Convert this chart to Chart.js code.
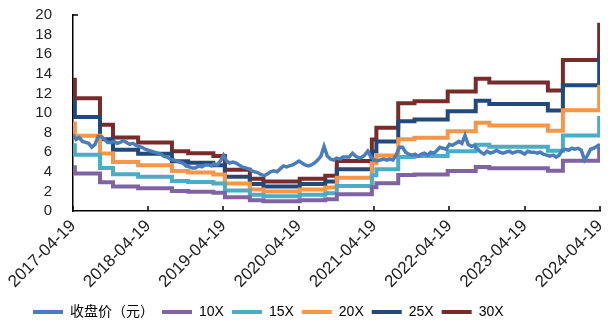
<!DOCTYPE html>
<html>
<head>
<meta charset="utf-8">
<script src="https://cdn.jsdelivr.net/npm/chart.js@4.4.1/dist/chart.umd.min.js"></script>
<style>
  html, body { margin: 0; padding: 0; background: #fff; }
</style>
</head>
<body>
<canvas id="chart" width="608" height="324"></canvas>
<script>
// x axis tick labels (one per year)
const tickLabels = ["2017-04-19", "2018-04-19", "2019-04-19", "2020-04-19",
  "2021-04-19", "2022-04-19", "2023-04-19", "2024-04-19"];

// closing price, sampled twice a month
const priceDates = [
  "2017-04-19","2017-05-04","2017-05-19","2017-06-04","2017-06-19","2017-07-04","2017-07-19","2017-08-04","2017-08-19","2017-09-04","2017-09-19","2017-10-04","2017-10-19","2017-11-04","2017-11-19","2017-12-04","2017-12-19",
  "2018-01-04","2018-01-19","2018-02-04","2018-02-19","2018-03-04","2018-03-19","2018-04-04","2018-04-19","2018-05-04","2018-05-19","2018-06-04","2018-06-19","2018-07-04","2018-07-19","2018-08-04","2018-08-19","2018-09-04","2018-09-19","2018-10-04","2018-10-19","2018-11-04","2018-11-19","2018-12-04","2018-12-19",
  "2019-01-04","2019-01-19","2019-02-04","2019-02-19","2019-03-04","2019-03-19","2019-04-04","2019-04-19","2019-05-04","2019-05-19","2019-06-04","2019-06-19","2019-07-04","2019-07-19","2019-08-04","2019-08-19","2019-09-04","2019-09-19","2019-10-04","2019-10-19","2019-11-04","2019-11-19","2019-12-04","2019-12-19",
  "2020-01-04","2020-01-19","2020-02-04","2020-02-19","2020-03-04","2020-03-19","2020-04-04","2020-04-19","2020-05-04","2020-05-19","2020-06-04","2020-06-19","2020-07-04","2020-07-19","2020-08-04","2020-08-19","2020-09-04","2020-09-19","2020-10-04","2020-10-19","2020-11-04","2020-11-19","2020-12-04","2020-12-19",
  "2021-01-04","2021-01-19","2021-02-04","2021-02-19","2021-03-04","2021-03-19","2021-04-04","2021-04-19","2021-05-04","2021-05-19","2021-06-04","2021-06-19","2021-07-04","2021-07-19","2021-08-04","2021-08-19","2021-09-04","2021-09-19","2021-10-04","2021-10-19","2021-11-04","2021-11-19","2021-12-04","2021-12-19",
  "2022-01-04","2022-01-19","2022-02-04","2022-02-19","2022-03-04","2022-03-19","2022-04-04","2022-04-19","2022-05-04","2022-05-19","2022-06-04","2022-06-19","2022-07-04","2022-07-19","2022-08-04","2022-08-19","2022-09-04","2022-09-19","2022-10-04","2022-10-19","2022-11-04","2022-11-19","2022-12-04","2022-12-19",
  "2023-01-04","2023-01-19","2023-02-04","2023-02-19","2023-03-04","2023-03-19","2023-04-04","2023-04-19","2023-05-04","2023-05-19","2023-06-04","2023-06-19","2023-07-04","2023-07-19","2023-08-04","2023-08-19","2023-09-04","2023-09-19","2023-10-04","2023-10-19","2023-11-04","2023-11-19","2023-12-04","2023-12-19",
  "2024-01-04","2024-01-19","2024-02-04","2024-02-19","2024-03-04","2024-03-19","2024-04-04","2024-04-19"
];
const priceValues = [
  7.8,7.3,7.5,7.1,7.0,6.9,6.5,6.8,7.6,7.6,7.3,7.0,7.0,7.1,6.9,7.0,7.2,
  7.0,6.8,6.9,6.7,6.6,6.5,6.3,6.2,6.1,6.0,5.9,5.8,5.6,5.5,5.3,5.2,5.1,5.0,4.9,4.6,4.5,4.4,4.4,4.6,
  4.5,4.7,4.7,4.6,4.8,4.7,5.1,5.7,5.1,4.9,5.0,4.9,4.7,4.5,4.4,4.3,4.1,4.0,3.9,3.7,3.6,3.8,4.0,4.1,
  4.0,4.3,4.6,4.5,4.6,4.7,4.9,5.1,4.9,4.7,4.6,4.7,4.9,5.2,5.6,6.6,5.6,5.3,5.2,5.4,5.3,5.5,5.5,5.5,
  5.9,5.6,5.4,5.5,5.7,6.1,5.5,5.2,5.1,5.2,5.3,5.2,5.3,5.2,5.7,6.5,6.5,6.0,5.8,5.7,5.8,5.6,5.8,5.9,
  5.7,6.0,5.9,6.2,6.5,6.4,6.3,6.8,6.7,6.9,7.1,6.9,7.7,6.8,6.6,6.7,6.3,6.0,5.8,6.1,5.9,6.0,6.2,6.0,
  5.9,6.0,6.1,5.9,6.0,6.1,6.0,5.8,6.1,6.0,6.0,5.9,6.0,5.8,5.7,5.6,5.7,5.5,5.7,6.2,6.3,6.2,6.4,6.3,
  6.4,6.2,5.2,5.7,6.3,6.4,6.6,6.8
];

// PE band lines: each value holds from its date until the next date
const bandDates = ["2017-04-19","2017-04-28","2017-08-28","2017-10-30","2018-03-01","2018-08-12",
  "2018-10-30","2019-03-01","2019-04-26","2019-08-25","2019-10-30","2020-04-23","2020-08-25",
  "2020-10-20","2021-04-08","2021-04-30","2021-08-14","2021-11-01","2022-04-11","2022-08-25",
  "2022-10-30","2023-08-10","2023-10-22","2024-04-15","2024-04-19"];
const pe10 = [4.47,3.83,2.93,2.50,2.33,2.03,1.97,1.87,1.40,1.10,1.00,1.10,1.20,1.70,2.43,2.83,3.67,3.73,4.07,4.50,4.37,4.10,5.13,6.33,6.33];
const pe15 = [6.70,5.75,4.40,3.75,3.50,3.05,2.95,2.80,2.10,1.65,1.50,1.65,1.80,2.55,3.65,4.25,5.50,5.60,6.10,6.75,6.55,6.15,7.70,9.50,9.50];
const pe20 = [8.93,7.67,5.87,5.00,4.67,4.07,3.93,3.73,2.80,2.20,2.00,2.20,2.40,3.40,4.87,5.67,7.33,7.47,8.13,9.00,8.73,8.20,10.27,12.67,12.67];
const pe25 = [11.17,9.58,7.33,6.25,5.83,5.08,4.92,4.67,3.50,2.75,2.50,2.75,3.00,4.25,6.08,7.08,9.17,9.33,10.17,11.25,10.92,10.25,12.83,15.83,15.83];
const pe30 = [13.4,11.5,8.8,7.5,7.0,6.1,5.9,5.6,4.2,3.3,3.0,3.3,3.6,5.1,7.3,8.5,11.0,11.2,12.2,13.5,13.1,12.3,15.4,19.0,19.0];

const seriesNames = ["收盘价（元）", "10X", "15X", "20X", "25X", "30X"];
const seriesColors = ["#4a7ebb", "#8064a2", "#4bacc6", "#f79646", "#22497a", "#772c2a"];

const toDay = (s) => Date.UTC(+s.slice(0, 4), +s.slice(5, 7) - 1, +s.slice(8, 10)) / 86400000;
const pairs = (dates, vals) => dates.map((d, i) => ({ x: toDay(d), y: vals[i] }));

const bands = [pe10, pe15, pe20, pe25, pe30];

const datasets = [{
  label: seriesNames[0],
  data: pairs(priceDates, priceValues),
  borderColor: seriesColors[0],
  backgroundColor: seriesColors[0],
  borderWidth: 3.5,
  pointRadius: 0,
  tension: 0,
}];
bands.forEach((vals, i) => {
  datasets.push({
    label: seriesNames[i + 1],
    data: pairs(bandDates, vals),
    borderColor: seriesColors[i + 1],
    backgroundColor: seriesColors[i + 1],
    borderWidth: 4,
    pointRadius: 0,
    stepped: "before",
  });
});

// small inward tick marks on the axes
const axisTicks = {
  id: "axisTicks",
  afterDatasetsDraw(chart) {
    const { ctx, chartArea, scales } = chart;
    ctx.save();
    ctx.strokeStyle = "#000";
    ctx.lineWidth = 1.5;
    ctx.beginPath();
    tickLabels.forEach((t) => {
      const x = Math.round(scales.x.getPixelForValue(toDay(t)));
      ctx.moveTo(x, chartArea.bottom);
      ctx.lineTo(x, chartArea.bottom - 5);
    });
    const yTop = scales.y.getPixelForValue(20);
    ctx.moveTo(chartArea.left, yTop);
    ctx.lineTo(chartArea.left + 5, yTop);
    ctx.stroke();
    ctx.restore();
  },
};

// push the legend row a little lower, under the rotated date labels
const legendOffset = {
  id: "legendOffset",
  afterLayout(chart) {
    chart.legend.top += 5;
    chart.legend.bottom += 5;
  },
};

Chart.defaults.font.family = '"Liberation Sans", "Noto Sans CJK SC", sans-serif';
Chart.defaults.color = "#222";

const chart = document.querySelector("#chart").getContext("2d");

new Chart(chart, {
  type: "line",
  data: { datasets },
  plugins: [axisTicks, legendOffset],
  options: {
    responsive: false,
    devicePixelRatio: 1,
    animation: false,
    layout: { autoPadding: false, padding: { left: 25, right: 8, top: 15, bottom: 0 } },
    scales: {
      x: {
        type: "linear",
        min: toDay(tickLabels[0]),
        max: toDay(tickLabels[tickLabels.length - 1]),
        afterBuildTicks: (scale) => {
          scale.ticks = tickLabels.map((t) => ({ value: toDay(t) }));
        },
        afterFit: (scale) => {
          scale.height = 81;
          scale.paddingLeft = 0;
          scale.paddingRight = 0;
        },
        grid: { display: false, drawTicks: false },
        border: { display: true, color: "#000", width: 1.5 },
        ticks: {
          autoSkip: false,
          maxRotation: 45,
          minRotation: 45,
          padding: 5,
          font: { size: 17 },
          callback: (value, index) => tickLabels[index],
        },
      },
      y: {
        min: 0,
        max: 20,
        afterFit: (scale) => {
          scale.width = 48;
          scale.paddingTop = 0;
          scale.paddingBottom = 0;
        },
        grid: { display: false, drawTicks: false },
        border: { display: true, color: "#000", width: 1.5 },
        ticks: { stepSize: 2, autoSkip: false, padding: 21, font: { size: 15 } },
      },
    },
    plugins: {
      tooltip: { enabled: false },
      legend: {
        position: "bottom",
        align: "start",
        labels: {
          boxWidth: 30,
          boxHeight: 4,
          padding: 8,
          font: { size: 14 },
          generateLabels: (c) =>
            c.data.datasets.map((ds, i) => ({
              text: ds.label,
              fillStyle: ds.borderColor,
              strokeStyle: ds.borderColor,
              lineWidth: 0,
              hidden: false,
              datasetIndex: i,
            })),
        },
      },
    },
  },
});
</script>
</body>
</html>
